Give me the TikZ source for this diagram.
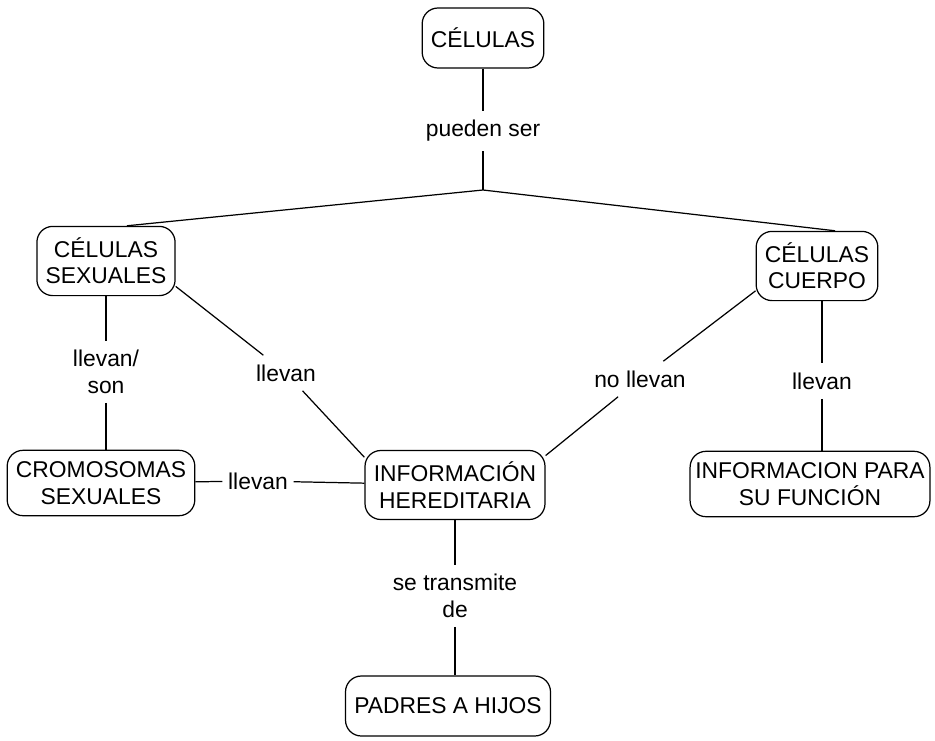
\documentclass[tikz,border=0pt]{standalone}
\usepackage{fontspec}
\setmainfont{Liberation Sans}
\begin{document}
\begin{tikzpicture}[x=0.02cm, y=-0.02cm, line width=0.7pt,
    caja/.style={draw, rounded corners=9pt, align=center, inner xsep=5pt, inner ysep=6.5pt, minimum height=1.2cm, font=\fontsize{13}{15}\selectfont},
    enlace/.style={align=center, inner xsep=3pt, inner ysep=5pt, font=\fontsize{13}{15}\selectfont}]
    \useasboundingbox (0,0) rectangle (935,740);
    \node[caja] (celulas) at (483,38) {CÉLULAS};
    \node[caja] (sexuales) at (106,261) {CÉLULAS\\SEXUALES};
    \node[caja] (cuerpo) at (817,266) {CÉLULAS\\CUERPO};
    \node[caja] (cromosomas) at (101,483) {CROMOSOMAS\\SEXUALES};
    \node[caja] (hereditaria) at (455,485) {INFORMACIÓN\\HEREDITARIA};
    \node[caja, inner xsep=3pt] (funcion) at (810,484) {INFORMACION PARA\\SU FUNCIÓN};
    \node[caja] (padres) at (448,706) {PADRES A HIJOS};
    \node[enlace] (pueden) at (483,131) {pueden ser};
    \coordinate (vertice) at (483,190);
    \node[enlace] (llevanson) at (106,372) {llevan/\\son};
    \node[enlace] (llevanA) at (286,373) {llevan};
    \node[enlace] (nollevan) at (640,379) {no llevan};
    \node[enlace] (llevanB) at (822,381) {llevan};
    \node[enlace] (llevanC) at (258,481) {llevan};
    \node[enlace] (transmite) at (455,596) {se transmite\\de};
    \draw (celulas) -- (pueden) -- (vertice);
    \draw (vertice) -- ([xshift=0.42cm]sexuales.north);
    \draw (vertice) -- ([xshift=0.36cm]cuerpo.north);
    \draw (sexuales.south) -- (llevanson) -- (cromosomas.north -| llevanson);
    \draw (sexuales.-20) -- (llevanA) -- (hereditaria.163);
    \draw (cuerpo.202) -- (nollevan) -- (hereditaria.18);
    \draw (cuerpo.south -| llevanB) -- (llevanB) -- (funcion.north -| llevanB);
    \draw (cromosomas) -- (llevanC) -- (hereditaria);
    \draw (hereditaria.south -| transmite) -- (transmite) -- (padres.north -| transmite);
\end{tikzpicture}
\end{document}
